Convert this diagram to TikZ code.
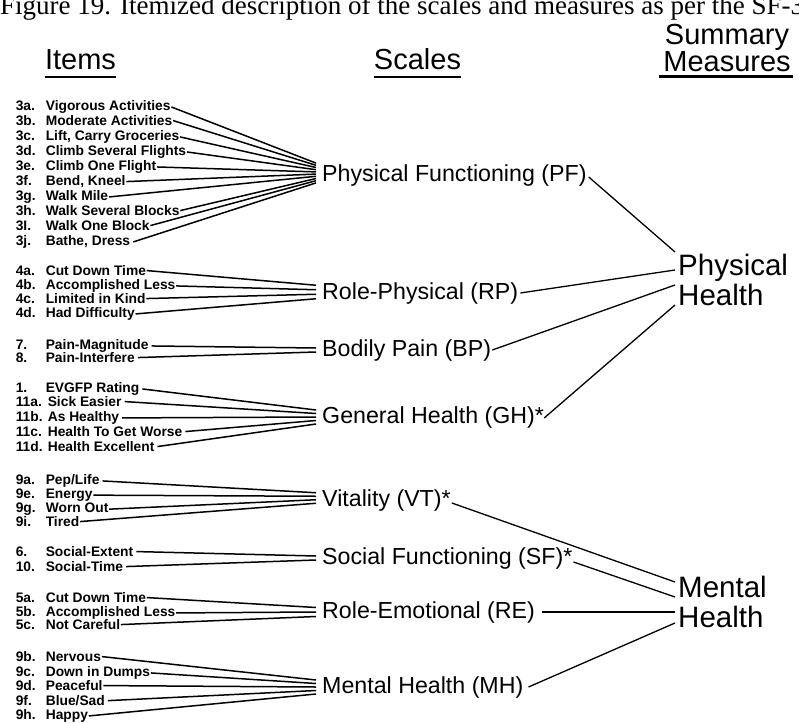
\documentclass[tikz,border=0pt]{standalone}
\usepackage{fontspec}
\setmainfont{Liberation Sans}
\newfontfamily\capfont{Liberation Serif}
\usetikzlibrary{calc}
\newcommand\itemrow[5]{\node[itm] (#1) at (15,#2+4.5) {\makebox[#3pt][l]{#4}#5};}
\newcommand\feedto[4]{\draw[feed] (#1.east) -- ([xshift=-6pt,yshift=#4pt]#2.west);}
\begin{document}
\begin{tikzpicture}[x=1pt,y=-1pt,
 itm/.style={anchor=base west,inner sep=0.6pt,font=\fontsize{13.8}{13.8}\selectfont\bfseries},
 scl/.style={anchor=west,inner sep=0pt,font=\fontsize{23.2}{23.2}\selectfont},
 summ/.style={anchor=west,inner sep=0pt,align=left,font=\fontsize{29.5}{30}\selectfont},
 hdr/.style={anchor=base,inner sep=0pt,font=\fontsize{29}{29}\selectfont},
 uline/.style={line width=2.6pt},
 feed/.style={line width=1.5pt},
 link/.style={line width=1.3pt}]
\useasboundingbox (0,0) rectangle (799,722);
\clip (0,0) rectangle (799,722);

% caption (cut off by the page edge)
\node[anchor=base west,inner sep=0pt,font=\capfont\fontsize{27}{27}\selectfont] (cap) at (0,15)
  {Figure 19. Itemized description of the scales and measures as per the SF-36};

% headers
\node[hdr] (hitems) at (80.5,70) {Items};
\node[hdr] (hscales) at (417.5,70) {Scales};
\node[hdr,align=center,font=\fontsize{29}{26.5}\selectfont,anchor=south] (hmeas) at (727,71.5) {Summary\\Measures};
\draw[uline] ([yshift=-7pt]hitems.base west) -- ([yshift=-7pt]hitems.base east);
\draw[uline] ([yshift=-7pt]hscales.base west) -- ([yshift=-7pt]hscales.base east);
\draw[uline] ([yshift=-5pt,xshift=-4pt]hmeas.south west) -- ([yshift=-5pt,xshift=2pt]hmeas.south east);

% scales
\node[scl] (pf) at (322,176) {Physical Functioning (PF)};
\node[scl] (rp) at (322,293) {Role-Physical (RP)};
\node[scl] (bp) at (322,350) {Bodily Pain (BP)};
\node[scl] (gh) at (322,417) {General Health (GH)*};
\node[scl] (vt) at (322,500) {Vitality (VT)*};
\node[scl] (sf) at (322,558) {Social Functioning (SF)*};
\node[scl] (re) at (322,612) {Role-Emotional (RE)};
\node[scl] (mh) at (322,687) {Mental Health (MH)};

% summary measures
\node[summ] (phys) at (678,279.5) {Physical\\Health};
\node[summ] (ment) at (678,601.5) {Mental\\Health};

% items
\itemrow{i3a}{106}{30}{3a.}{Vigorous Activities}
\itemrow{i3b}{121}{30}{3b.}{Moderate Activities}
\itemrow{i3c}{136}{30}{3c.}{Lift, Carry Groceries}
\itemrow{i3d}{151}{30}{3d.}{Climb Several Flights}
\itemrow{i3e}{166}{30}{3e.}{Climb One Flight}
\itemrow{i3f}{181}{30}{3f.}{Bend, Kneel}
\itemrow{i3g}{196}{30}{3g.}{Walk Mile}
\itemrow{i3h}{211}{30}{3h.}{Walk Several Blocks}
\itemrow{i3i}{226}{30}{3I.}{Walk One Block}
\itemrow{i3j}{241}{30}{3j.}{Bathe, Dress\,}

\itemrow{i4a}{271}{30}{4a.}{Cut Down Time}
\itemrow{i4b}{285}{30}{4b.}{Accomplished Less}
\itemrow{i4c}{299}{30}{4c.}{Limited in Kind}
\itemrow{i4d}{313}{30}{4d.}{Had Difficulty}

\itemrow{i7}{345}{30}{7.}{Pain-Magnitude\,}
\itemrow{i8}{358}{30}{8.}{Pain-Interfere\,}

\itemrow{i1}{388}{30}{1.}{EVGFP Rating\,}
\itemrow{i11a}{402}{32}{11a.}{Sick Easier\,}
\itemrow{i11b}{417}{32}{11b.}{As Healthy\,}
\itemrow{i11c}{432}{32}{11c.}{Health To Get Worse\,}
\itemrow{i11d}{447}{32}{11d.}{Health Excellent\,}

\itemrow{i9a}{480}{30}{9a.}{Pep/Life\,}
\itemrow{i9e}{494}{30}{9e.}{Energy}
\itemrow{i9g}{508}{30}{9g.}{Worn Out}
\itemrow{i9i}{522}{30}{9i.}{Tired}

\itemrow{i6}{552}{30}{6.}{Social-Extent\,}
\itemrow{i10}{567}{30}{10.}{Social-Time\,}

\itemrow{i5a}{598}{30}{5a.}{Cut Down Time}
\itemrow{i5b}{612}{30}{5b.}{Accomplished Less}
\itemrow{i5c}{625}{30}{5c.}{Not Careful}

\itemrow{i9b}{657}{30}{9b.}{Nervous}
\itemrow{i9c}{672}{30}{9c.}{Down in Dumps}
\itemrow{i9d}{686}{30}{9d.}{Peaceful}
\itemrow{i9f}{701}{30}{9f.}{Blue/Sad\,}
\itemrow{i9h}{715}{30}{9h.}{Happy}

% item -> scale connectors
\foreach \n [count=\k from 0] in {i3a,i3b,i3c,i3d,i3e,i3f,i3g,i3h,i3i,i3j}
  {\pgfmathsetmacro\dy{3+(4.5-\k)*2.2}\feedto{\n}{pf}{}{\dy}}
\foreach \n [count=\k from 0] in {i4a,i4b,i4c,i4d}
  {\pgfmathsetmacro\dy{1+(1.5-\k)*4.5}\feedto{\n}{rp}{}{\dy}}
\foreach \n [count=\k from 0] in {i7,i8}
  {\pgfmathsetmacro\dy{(0.5-\k)*4}\feedto{\n}{bp}{}{\dy}}
\foreach \n [count=\k from 0] in {i1,i11a,i11b,i11c,i11d}
  {\pgfmathsetmacro\dy{(2-\k)*3.5}\feedto{\n}{gh}{}{\dy}}
\foreach \n [count=\k from 0] in {i9a,i9e,i9g,i9i}
  {\pgfmathsetmacro\dy{2+(1.5-\k)*3.5}\feedto{\n}{vt}{}{\dy}}
\foreach \n [count=\k from 0] in {i6,i10}
  {\pgfmathsetmacro\dy{(0.5-\k)*4}\feedto{\n}{sf}{}{\dy}}
\foreach \n [count=\k from 0] in {i5a,i5b,i5c}
  {\pgfmathsetmacro\dy{(1-\k)*4.5}\feedto{\n}{re}{}{\dy}}
\foreach \n [count=\k from 0] in {i9b,i9c,i9d,i9f,i9h}
  {\pgfmathsetmacro\dy{(2-\k)*3.5}\feedto{\n}{mh}{}{\dy}}

% scale -> summary connectors
\draw[link] ([xshift=2pt,yshift=-1pt]pf.east) -- ([xshift=-3pt,yshift=27.5pt]phys.west);
\draw[link] ([xshift=2pt]rp.east) -- ([xshift=-3pt,yshift=9.5pt]phys.west);
\draw[link] ([xshift=1pt]bp.east) -- ([xshift=-3pt,yshift=-5.5pt]phys.west);
\draw[link] ([xshift=0pt,yshift=-1pt]gh.east) -- ([xshift=-3pt,yshift=-25.5pt]phys.west);
\draw[link] ([xshift=1pt,yshift=-3pt]vt.east) -- ([xshift=-3pt,yshift=19.5pt]ment.west);
\draw[link] ([xshift=1pt,yshift=-4pt]sf.east) -- ([xshift=-3pt,yshift=4.5pt]ment.west);
\draw[link] ([xshift=7pt]re.east) -- ([xshift=-3pt,yshift=-10.5pt]ment.west);
\draw[link] ([xshift=5pt]mh.east) -- ([xshift=-3pt,yshift=-21.5pt]ment.west);
\end{tikzpicture}
\end{document}
